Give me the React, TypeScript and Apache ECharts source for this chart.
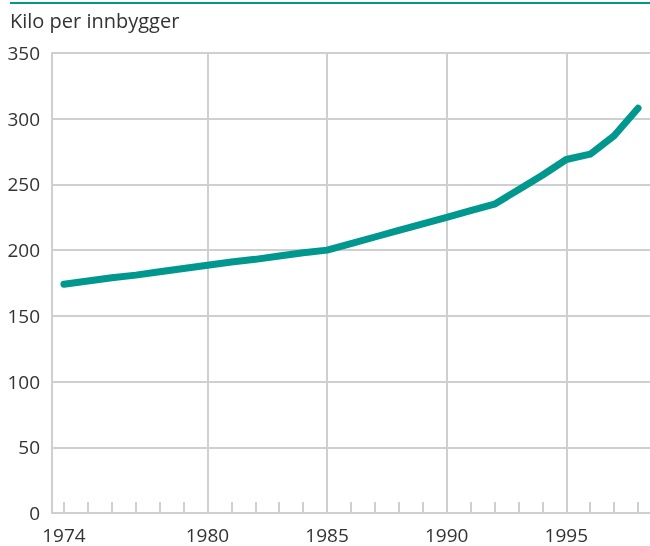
import React, { useEffect, useRef } from "react";
import * as echarts from "echarts";

const years = [1974, 1975, 1976, 1977, 1978, 1979, 1980, 1981, 1982, 1983, 1984, 1985, 1986, 1987, 1988, 1989, 1990, 1991, 1992, 1993, 1994, 1995, 1996, 1997, 1998];
const kiloPerInnbygger = [174, 176.5, 179, 181, 183.5, 186, 188.5, 191, 193, 195.5, 198, 200, 205, 210, 215, 220, 225, 230, 235, 246, 257, 269, 273, 287, 308];
const xLabelYears = [1974, 1980, 1985, 1990, 1995];
const xGridYears = [1980, 1985, 1990, 1995];
const yTitle = "Kilo per innbygger";

const FONT = "'Open Sans', 'Noto Sans', sans-serif";
const GRID = "#cfcfcf";
const TEAL = "#00978f";
const TEXT = "#333333";
const FS = 19;

export default function App() {
  const ref = useRef<HTMLDivElement>(null);
  useEffect(() => {
    if (!ref.current) return;
    const chart = echarts.init(ref.current, undefined, { renderer: "svg" });
    chart.setOption({
      animation: false,
      grid: { left: 52, right: -3, top: 53, bottom: 33, containLabel: false },
      graphic: [
        { type: "rect", left: 10, top: 2, shape: { width: 640, height: 2 }, style: { fill: TEAL } },
        {
          type: "text",
          left: 10,
          top: 10,
          style: { text: yTitle, fill: TEXT, font: `20px ${FONT}` },
        },
      ],
      xAxis: [
        {
          type: "value",
          min: 1973.5,
          max: 1998.5,
          axisLine: { show: true, onZero: false, lineStyle: { color: GRID, width: 2 } },
          axisTick: { show: true, inside: true, length: 11, customValues: years, lineStyle: { color: GRID, width: 2 } },
          axisLabel: { customValues: xLabelYears, color: TEXT, fontSize: FS, fontFamily: FONT, margin: 12, formatter: (v: number) => String(v) },
          splitLine: { show: false },
        },
        {
          type: "value",
          min: 1973.5,
          max: 1998.5,
          position: "bottom",
          axisLine: { show: false },
          axisTick: { show: false, customValues: xGridYears },
          axisLabel: { show: false },
          splitLine: { show: true, lineStyle: { color: GRID, width: 2 } },
        },
      ],
      yAxis: {
        type: "value",
        min: 0,
        max: 350,
        interval: 50,
        axisLine: { show: true, lineStyle: { color: GRID, width: 2 } },
        axisTick: { show: false },
        axisLabel: { color: TEXT, fontSize: FS, fontFamily: FONT, margin: 12 },
        splitLine: { show: true, lineStyle: { color: GRID, width: 2 } },
      },
      series: [
        {
          type: "line",
          xAxisIndex: 0,
          data: years.map((y, i) => [y, kiloPerInnbygger[i]]),
          showSymbol: false,
          symbol: "none",
          lineStyle: { color: TEAL, width: 7, cap: "round", join: "round" },
          z: 5,
        },
      ],
    });
    return () => chart.dispose();
  }, []);
  return <div ref={ref} style={{ position: "fixed", left: 0, top: 0, width: 650, height: 546 }} />;
}
